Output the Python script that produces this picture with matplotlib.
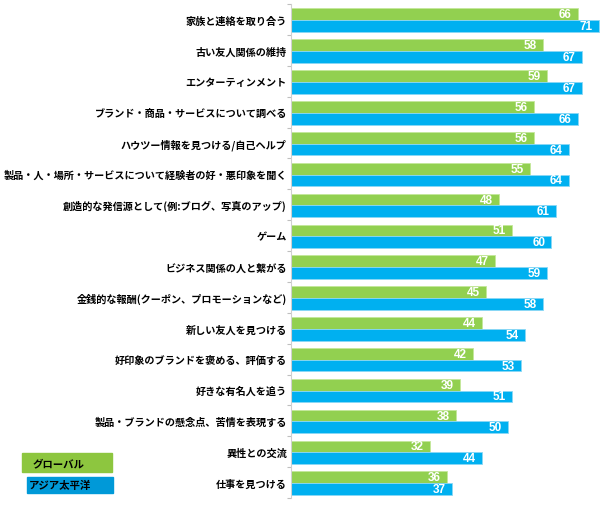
import matplotlib
matplotlib.use("Agg")
import matplotlib.pyplot as plt
from matplotlib.patches import Rectangle
import numpy as np

plt.rcParams['font.family'] = ['Noto Sans CJK JP', 'DejaVu Sans']

# データ
categories = [
    "家族と連絡を取り合う",
    "古い友人関係の維持",
    "エンターティンメント",
    "ブランド・商品・サービスについて調べる",
    "ハウツー情報を見つける/自己ヘルプ",
    "製品・人・場所・サービスについて経験者の好・悪印象を聞く",
    "創造的な発信源として(例:ブログ、写真のアップ)",
    "ゲーム",
    "ビジネス関係の人と繋がる",
    "金銭的な報酬(クーポン、プロモーションなど)",
    "新しい友人を見つける",
    "好印象のブランドを褒める、評価する",
    "好きな有名人を追う",
    "製品・ブランドの懸念点、苦情を表現する",
    "異性との交流",
    "仕事を見つける",
]
global_vals = [66, 58, 59, 56, 56, 55, 48, 51, 47, 45, 44, 42, 39, 38, 32, 36]
apac_vals = [71, 67, 67, 66, 64, 64, 61, 60, 59, 58, 54, 53, 51, 50, 44, 37]
series_names = ["グローバル", "アジア太平洋"]

green = "#92D050"
blue = "#00B0F0"

fig = plt.figure(figsize=(6.07, 5.06), dpi=100)
ax = fig.add_axes([0.4794, 0.0138, 0.515, 0.976])

y = np.arange(len(categories))
h = 0.38
ax.barh(y - h / 2 + 0.02, global_vals, height=h, color=green,
        edgecolor="#c4e89a", linewidth=0.6)
ax.barh(y + h / 2 + 0.02, apac_vals, height=h, color=blue,
        edgecolor="#8ad8f5", linewidth=0.6)

for i in range(len(categories)):
    for v, off in ((global_vals[i], -h / 2 + 0.02), (apac_vals[i], h / 2 + 0.02)):
        ax.annotate(str(v), (v, i + off), xytext=(-4.5, 0), textcoords="offset points",
                    ha="right", va="center", color="white", fontsize=8.5,
                    fontweight="bold", family=["Liberation Sans", "DejaVu Sans"])

ax.set_xlim(0, 72)
ax.set_ylim(len(categories) - 0.5, -0.5)
ax.set_xticks([])
ax.set_yticks(y)
ax.set_yticklabels(categories, fontsize=7.3, fontweight="bold")
ax.tick_params(axis="y", which="major", length=0, pad=3)
ax.set_yticks(np.arange(-0.5, len(categories)), minor=True)
ax.tick_params(axis="y", which="minor", length=3, color="#bfbfbf", width=0.8)

for s in ["top", "right", "bottom"]:
    ax.spines[s].set_visible(False)
ax.spines["left"].set_color("#d0d0d0")
ax.spines["left"].set_linewidth(0.8)

# 凡例
W, H = 607, 506
legend_boxes = [((22, 454, 90, 19), "#8DC63F"), ((27, 478, 86, 16), "#0099D8")]
for (x0, y0, bw, bh), c in legend_boxes:
    fig.patches.append(Rectangle((x0 / W, 1 - (y0 + bh) / H), bw / W, bh / H,
                                 transform=fig.transFigure, color=c))
fig.text(33 / W, 1 - 464 / H, series_names[0], fontsize=7.5, fontweight="bold",
         va="center", ha="left")
fig.text(29 / W, 1 - 486 / H, series_names[1], fontsize=7.5, fontweight="bold",
         va="center", ha="left")

fig.savefig("out.png", dpi=100)
